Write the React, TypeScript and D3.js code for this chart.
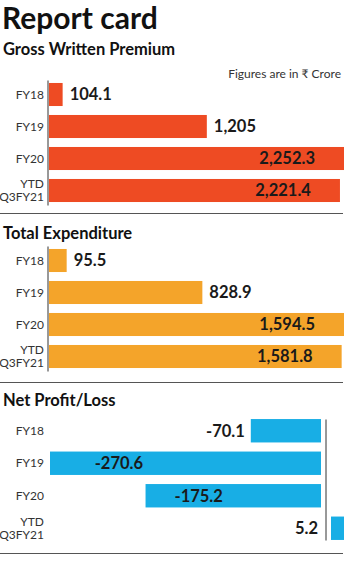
import React from "react";
import * as d3 from "d3";

const categories = ["FY18", "FY19", "FY20", "YTD\nQ3FY21"];
const grossPremium = [104.1, 1205, 2252.3, 2221.4];
const totalExpenditure = [95.5, 828.9, 1594.5, 1581.8];
const netProfit = [-70.1, -270.6, -175.2, 5.2];

const W = 350;
const H = 561;
const FONT = "Lato, 'Noto Sans', sans-serif";
const fmt0 = d3.format(",");
const fmt = (v: number) => fmt0(v).replace("\u2212", "-");

function CatLabel({ text, y }: { text: string; y: number }) {
  const lines = text.split("\n");
  return (
    <text x={44} y={y} textAnchor="end" fontSize={12} fill="#333" fontFamily={FONT}>
      {lines.map((l, i) => (
        <tspan key={i} x={44} dy={i === 0 ? (lines.length === 1 ? "0.35em" : "-0.22em") : "1.13em"}>
          {l}
        </tspan>
      ))}
    </text>
  );
}

function ValueLabel({ x, y, anchor, v }: { x: number; y: number; anchor: string; v: number }) {
  return (
    <text x={x} y={y} dy="0.36em" textAnchor={anchor} fontSize={16.5} fontWeight={700} fill="#1a1a1a" fontFamily={FONT}>
      {fmt(v)}
    </text>
  );
}

function PosSection({ values, color, top }: { values: number[]; color: string; top: number }) {
  const y = d3.scaleBand<string>().domain(categories).range([top, top + 128]).paddingInner(0.28).paddingOuter(0.14);
  const x = d3.scaleLinear().domain([0, d3.max(values) as number]).range([49, 344]);
  return (
    <g>
      <line x1={48} x2={48} y1={top + 2} y2={top + 127} stroke="#333" strokeWidth={1} />
      {categories.map((c, i) => {
        const v = values[i];
        const y0 = y(c) as number;
        const bw = y.bandwidth();
        const w = x(v) - x(0);
        const inside = w > 200;
        return (
          <g key={c}>
            <rect x={x(0)} y={y0} width={w} height={bw} fill={color} />
            <CatLabel text={c} y={y0 + bw / 2} />
            <ValueLabel x={inside ? x(v) - 29 : x(v) + 7} y={y0 + bw / 2} anchor={inside ? "end" : "start"} v={v} />
          </g>
        );
      })}
    </g>
  );
}

function NetSection({ values, color, top }: { values: number[]; color: string; top: number }) {
  const y = d3.scaleBand<string>().domain(categories).range([top, top + 130]).paddingInner(0.28).paddingOuter(0.14);
  const x = d3.scaleLinear().domain([d3.min(values) as number, 0]).range([50, 321]);
  const axisX = x(0) + 5;
  return (
    <g>
      <line x1={axisX} x2={axisX} y1={top + 5} y2={top + 126} stroke="#333" strokeWidth={1} />
      {categories.map((c, i) => {
        const v = values[i];
        const y0 = y(c) as number;
        const bw = y.bandwidth();
        const cy = y0 + bw / 2;
        let rect;
        let label;
        if (v < 0) {
          const left = x(v);
          const w = x(0) - x(v);
          rect = <rect x={left} y={y0} width={w} height={bw} fill={color} />;
          label =
            w > 100 ? (
              <ValueLabel x={left + 0.165 * w} y={cy} anchor="start" v={v} />
            ) : (
              <ValueLabel x={left - 6} y={cy} anchor="end" v={v} />
            );
        } else {
          const left = axisX + 5;
          const w = Math.max(x(v) - x(0), 13);
          rect = <rect x={left} y={y0} width={w} height={bw} fill={color} />;
          label = <ValueLabel x={axisX - 8} y={cy} anchor="end" v={v} />;
        }
        return (
          <g key={c}>
            {rect}
            {label}
            <CatLabel text={c} y={cy} />
          </g>
        );
      })}
    </g>
  );
}

export default function App() {
  return (
    <div style={{ position: "absolute", left: 0, top: 0, width: W, height: H, background: "#fff" }}>
      <svg width={W} height={H} style={{ display: "block" }}>
        <rect width={W} height={H} fill="#fff" />
        <text x={2} y={29} fontSize={30} fontWeight={700} fill="#111" fontFamily={FONT}>Report card</text>
        <text x={3} y={55} fontSize={16.5} fontWeight={700} fill="#111" fontFamily={FONT}>Gross Written Premium</text>
        <text x={341} y={78} fontSize={12} textAnchor="end" fill="#333" fontFamily={FONT}>Figures are in ₹ Crore</text>
        <PosSection values={grossPremium} color="#EE4B23" top={78.5} />
        <line x1={0} x2={343} y1={213.5} y2={213.5} stroke="#555" strokeWidth={1} />
        <text x={3} y={239} fontSize={16.5} fontWeight={700} fill="#111" fontFamily={FONT}>Total Expenditure</text>
        <PosSection values={totalExpenditure} color="#F4A42A" top={244.5} />
        <line x1={0} x2={343} y1={382.5} y2={382.5} stroke="#555" strokeWidth={1} />
        <text x={3} y={406} fontSize={16.5} fontWeight={700} fill="#111" fontFamily={FONT}>Net Profit/Loss</text>
        <NetSection values={netProfit} color="#18AEE5" top={414.5} />
        <line x1={0} x2={343} y1={553.5} y2={553.5} stroke="#555" strokeWidth={1} />
      </svg>
    </div>
  );
}
